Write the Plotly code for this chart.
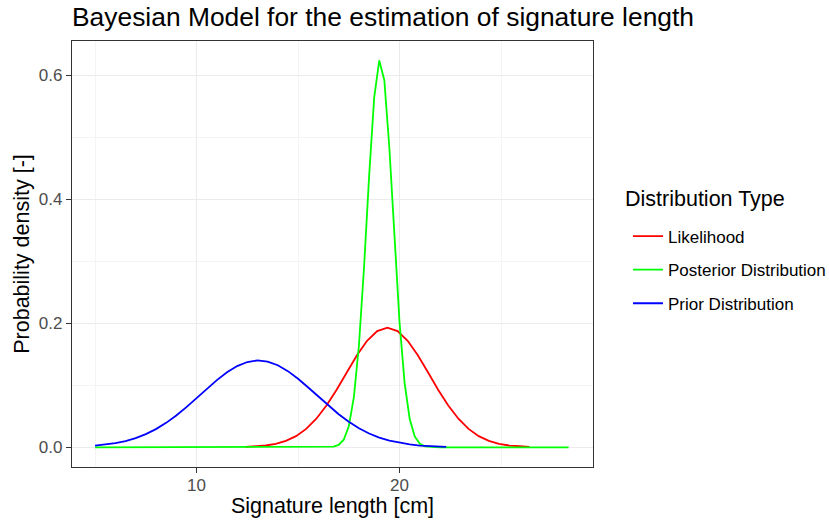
import plotly.graph_objects as go

# Prior distribution of signature length (cm) and its density
prior_x = [5.0, 5.5, 6.0, 6.5, 7.0, 7.5, 8.0, 8.5, 9.0, 9.5, 10.0, 10.5, 11.0, 11.5,
           12.0, 12.5, 13.0, 13.5, 14.0, 14.5, 15.0, 15.5, 16.0, 16.5, 17.0, 17.5,
           18.0, 18.5, 19.0, 19.5, 20.0, 20.5, 21.0, 21.5, 22.0, 22.3]
prior_y = [0.0026, 0.0042, 0.0066, 0.0101, 0.0148, 0.0212, 0.0293, 0.0394, 0.0513,
           0.0647, 0.0793, 0.0941, 0.1084, 0.1210, 0.1310, 0.1375, 0.1400, 0.1382,
           0.1323, 0.1228, 0.1105, 0.0965, 0.0816, 0.0670, 0.0533, 0.0411, 0.0308,
           0.0223, 0.0157, 0.0107, 0.0071, 0.0046, 0.0028, 0.0017, 0.0010, 0.0007]

# Likelihood of the measured lengths
lik_x = [12.4, 12.9, 13.4, 13.9, 14.4, 14.9, 15.4, 15.9, 16.4, 16.9, 17.4, 17.9,
         18.4, 18.9, 19.4, 19.9, 20.4, 20.9, 21.4, 21.9, 22.4, 22.9, 23.4, 23.9,
         24.4, 24.9, 25.4, 25.9, 26.4]
lik_y = [0.0006, 0.0014, 0.0029, 0.0056, 0.0104, 0.0180, 0.0297, 0.0460, 0.0673,
         0.0929, 0.1209, 0.1483, 0.1717, 0.1874, 0.1930, 0.1874, 0.1717, 0.1483,
         0.1209, 0.0929, 0.0673, 0.0460, 0.0297, 0.0180, 0.0104, 0.0056, 0.0029,
         0.0014, 0.0006]

# Posterior distribution
post_x = [5.0, 16.0, 16.25, 16.5, 16.75, 17.0, 17.25, 17.5, 17.75, 18.0, 18.25,
          18.5, 18.75, 19.0, 19.25, 19.5, 19.75, 20.0, 20.25, 20.5, 20.75, 21.0,
          21.25, 21.5, 21.75, 22.0, 28.33]
post_y = [0.0, 0.0, 0.0001, 0.0003, 0.0010, 0.0038, 0.0122, 0.0339, 0.0809, 0.1650,
          0.2900, 0.4370, 0.5640, 0.6240, 0.5920, 0.4820, 0.3360, 0.2010, 0.1034,
          0.0456, 0.0172, 0.0056, 0.0015, 0.0004, 0.0001, 0.0, 0.0]

series_names = ["Likelihood", "Posterior Distribution", "Prior Distribution"]
series_colors = ["#FF0000", "#00FF00", "#0000FF"]

x_ticks = [10, 20]
y_ticks = [0.0, 0.2, 0.4, 0.6]
y_tick_text = ["0.0", "0.2", "0.4", "0.6"]

FONT = "Liberation Sans, Arial, sans-serif"

fig = go.Figure()
for name, color, xs, ys in zip(series_names, series_colors,
                               [lik_x, post_x, prior_x], [lik_y, post_y, prior_y]):
    fig.add_trace(go.Scatter(x=xs, y=ys, mode="lines", name=name,
                             legendgroup=name,
                             line=dict(color=color, width=1.8)))

axis_common = dict(
    automargin=False,
    showline=True, mirror=True, linecolor="#333333", linewidth=1.2,
    ticks="outside", ticklen=5, tickwidth=1.2, tickcolor="#333333",
    showgrid=True, gridcolor="#EBEBEB", gridwidth=1.4,
    zeroline=False,
    tickfont=dict(family=FONT, size=17, color="#4D4D4D"),
    title_font=dict(family=FONT, size=21.5, color="#000000"),
)

fig.update_xaxes(
    range=[3.863, 29.53], tickvals=x_ticks,
    minor=dict(tickvals=[5, 15, 25], showgrid=True, gridcolor="#F4F4F4",
               gridwidth=0.8, ticks=""),
    ticklabelstandoff=-3,
    title_text="Signature length [cm]", title_standoff=4,
    **axis_common,
)
fig.update_yaxes(
    range=[-0.0318, 0.6553], tickvals=y_ticks, ticktext=y_tick_text,
    minor=dict(tickvals=[0.1, 0.3, 0.5], showgrid=True, gridcolor="#F4F4F4",
               gridwidth=0.8, ticks=""),
    title_text="Probability density [-]", title_standoff=3,
    **axis_common,
)

# Plot area spans 72..593 px horizontally and 41..467 px vertically
PLOT_L, PLOT_W, PLOT_T, PLOT_H = 72, 521, 41, 426

fig.update_layout(
    width=829, height=524,
    margin=dict(l=PLOT_L, r=829 - PLOT_L - PLOT_W, t=PLOT_T,
                b=524 - PLOT_T - PLOT_H, pad=0, autoexpand=False),
    paper_bgcolor="white", plot_bgcolor="white",
    title=dict(text="Bayesian Model for the estimation of signature length",
               font=dict(family=FONT, size=26.4, color="#000000"),
               x=0, xref="paper", xanchor="left",
               y=1 - 17 / 524, yref="container", yanchor="middle"),
    legend=dict(
        font=dict(family=FONT, size=17, color="#000000"),
        x=(628 - PLOT_L) / PLOT_W, xanchor="left",
        y=(PLOT_T + PLOT_H - 270) / PLOT_H, yanchor="middle",
        bgcolor="rgba(0,0,0,0)", tracegroupgap=8.5,
    ),
    showlegend=True,
    annotations=[dict(
        text="Distribution Type", showarrow=False,
        font=dict(family=FONT, size=21.5, color="#000000"),
        xref="paper", yref="paper",
        x=(625 - PLOT_L) / PLOT_W, xanchor="left",
        y=(PLOT_T + PLOT_H - 199) / PLOT_H, yanchor="middle",
        xshift=-2,
    )],
)

fig.write_html("out.html")
